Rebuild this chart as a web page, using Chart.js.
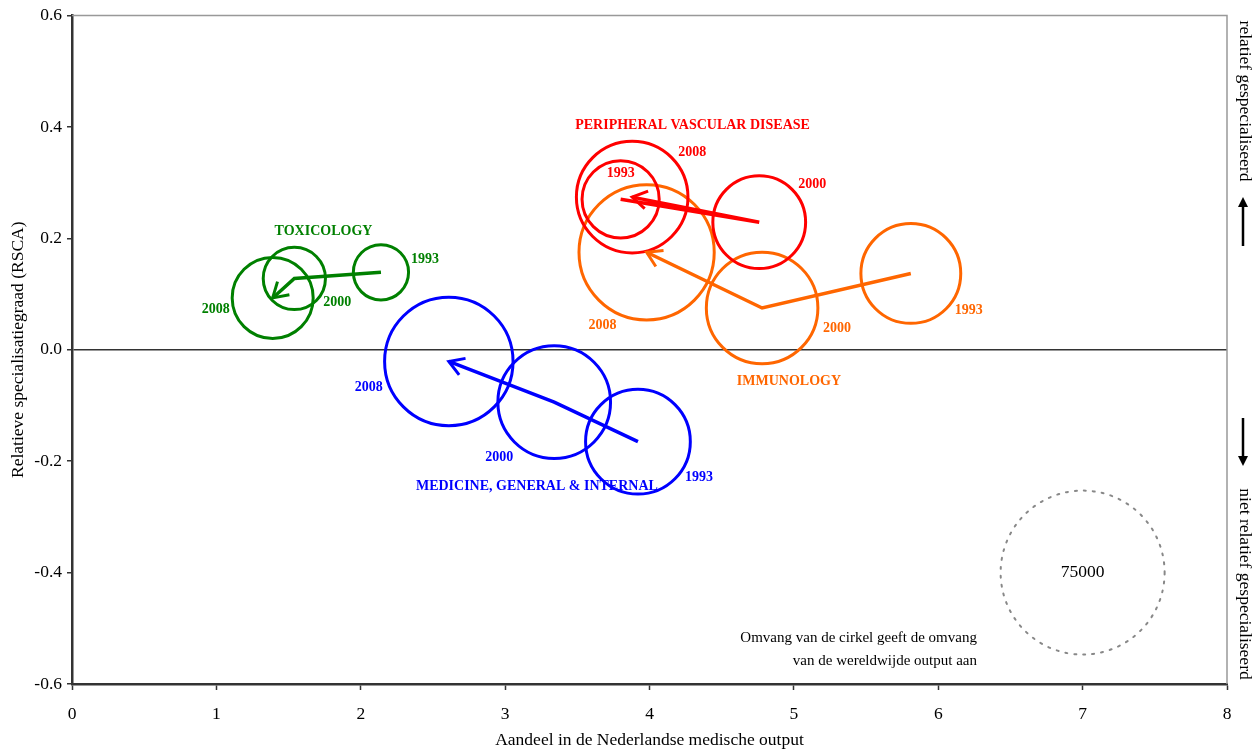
<!DOCTYPE html>
<html>
<head>
<meta charset="utf-8">
<script src="https://cdn.jsdelivr.net/npm/chart.js@4.4.1/dist/chart.umd.min.js"></script>
<style>
    html, body { margin: 0; padding: 0; background: #fff; }
    #wrap { width: 1260px; height: 752px; position: relative; }
</style>
</head>
<body>
<div id="wrap"><canvas id="chart"></canvas></div>
<script>
const years = ['1993', '2000', '2008'];

// aandeel (x), RSCA (y), wereldwijde output (cirkelgrootte)
const toxX = [2.14, 1.54, 1.39];
const toxY = [0.139, 0.128, 0.093];
const toxSize = [8500, 10800, 18300];

const medX = [3.92, 3.34, 2.61];
const medY = [-0.165, -0.094, -0.021];
const medSize = [30600, 35400, 46000];

const pvdX = [3.80, 4.76, 3.88];
const pvdY = [0.270, 0.229, 0.274];
const pvdSize = [16600, 24000, 34700];

const immX = [5.81, 4.78, 3.98];
const immY = [0.137, 0.075, 0.175];
const immSize = [27800, 34700, 51000];

const refX = [7];
const refY = [-0.4];
const refSize = [75000];

const groupNames = ['TOXICOLOGY', 'MEDICINE, GENERAL & INTERNAL', 'PERIPHERAL VASCULAR DISEASE', 'IMMUNOLOGY'];
const xTicks = [0, 1, 2, 3, 4, 5, 6, 7, 8];
const yTicks = [-0.6, -0.4, -0.2, 0.0, 0.2, 0.4, 0.6];

const SERIF = "'Liberation Serif', 'Times New Roman', serif";
const R_REF = 82;

function radius(v) {
    return R_REF * Math.sqrt(v / refSize[0]);
}

const groups = [
    { name: groupNames[0], x: toxX, y: toxY, size: toxSize, color: '#008000',
      yearOffsets: [[44, -13], [43, 24], [-57, 11]], nameAt: [1.742, 0.213] },
    { name: groupNames[1], x: medX, y: medY, size: medSize, color: '#0000FF',
      yearOffsets: [[61, 36], [-55, 55], [-80, 26]], nameAt: [3.22, -0.245] },
    { name: groupNames[2], x: pvdX, y: pvdY, size: pvdSize, color: '#FF0000',
      yearOffsets: [[0, -26], [53, -38], [60, -45]], nameAt: [4.298, 0.403] },
    { name: groupNames[3], x: immX, y: immY, size: immSize, color: '#FF6600',
      yearOffsets: [[58, 37], [75, 20], [-44, 73]], nameAt: [4.966, -0.057] }
];

const datasets = [];
groups.forEach((g, gi) => {
    datasets.push({
        type: 'line',
        data: g.x.map((x, i) => ({ x: x, y: g.y[i] })),
        borderColor: g.color,
        borderWidth: 3.5,
        pointRadius: 0,
        tension: 0,
        fill: false,
        order: 0
    });
    datasets.push({
        type: 'bubble',
        data: g.x.map((x, i) => ({ x: x, y: g.y[i], r: radius(g.size[i]) })),
        borderColor: g.color,
        backgroundColor: 'transparent',
        borderWidth: 3,
        hoverRadius: 0,
        order: 1
    });
});
// referentiecirkel
datasets.push({
    type: 'bubble',
    data: refX.map((x, i) => ({ x: x, y: refY[i], r: radius(refSize[i]) })),
    borderColor: '#888',
    backgroundColor: 'transparent',
    borderWidth: 2,
    hoverRadius: 0,
    order: 2
});
const REF_INDEX = datasets.length - 1;

const dottedRef = {
    id: 'dottedRef',
    beforeDatasetDraw(chart, args) {
        if (args.index === REF_INDEX) {
            chart.ctx.save();
            chart.ctx.setLineDash([2, 7]);
            chart.ctx.lineCap = 'round';
        }
    },
    afterDatasetDraw(chart, args) {
        if (args.index === REF_INDEX) chart.ctx.restore();
    }
};

const arrowHeads = {
    id: 'arrowHeads',
    afterDatasetsDraw(chart) {
        const ctx = chart.ctx;
        const L = 17, A = 0.55;
        chart.data.datasets.forEach((ds, i) => {
            if (ds.type !== 'line') return;
            const pts = chart.getDatasetMeta(i).data;
            const a = pts[pts.length - 2], b = pts[pts.length - 1];
            const ang = Math.atan2(b.y - a.y, b.x - a.x);
            ctx.save();
            ctx.strokeStyle = ds.borderColor;
            ctx.lineWidth = 3;
            ctx.beginPath();
            ctx.moveTo(b.x - L * Math.cos(ang - A), b.y - L * Math.sin(ang - A));
            ctx.lineTo(b.x, b.y);
            ctx.lineTo(b.x - L * Math.cos(ang + A), b.y - L * Math.sin(ang + A));
            ctx.stroke();
            ctx.restore();
        });
    }
};

const annotations = {
    id: 'annotations',
    afterDraw(chart) {
        const ctx = chart.ctx;
        const xs = chart.scales.x, ys = chart.scales.y;
        const area = chart.chartArea;

        // bovenrand en rechterrand
        ctx.save();
        ctx.strokeStyle = '#999';
        ctx.lineWidth = 1.5;
        ctx.beginPath();
        ctx.moveTo(area.left, area.top);
        ctx.lineTo(area.right, area.top);
        ctx.lineTo(area.right, area.bottom);
        ctx.stroke();
        ctx.restore();

        ctx.save();
        ctx.textAlign = 'center';
        ctx.textBaseline = 'middle';
        ctx.font = 'bold 14px ' + SERIF;
        groups.forEach((g, gi) => {
            ctx.fillStyle = g.color;
            const meta = chart.getDatasetMeta(gi * 2 + 1);
            meta.data.forEach((p, i) => {
                const off = g.yearOffsets[i];
                ctx.fillText(years[i], p.x + off[0], p.y + off[1]);
            });
            ctx.fillText(g.name, xs.getPixelForValue(g.nameAt[0]), ys.getPixelForValue(g.nameAt[1]));
        });

        // referentiecirkel
        ctx.fillStyle = '#000';
        ctx.font = '17.5px ' + SERIF;
        const ref = chart.getDatasetMeta(REF_INDEX).data[0];
        ctx.fillText(String(refSize[0]), ref.x, ref.y);

        ctx.textAlign = 'right';
        ctx.font = '15px ' + SERIF;
        const lx = xs.getPixelForValue(6.268);
        ctx.fillText('Omvang van de cirkel geeft de omvang', lx, ys.getPixelForValue(-0.5175));
        ctx.fillText('van de wereldwijde output aan', lx, ys.getPixelForValue(-0.559));

        // rechter teksten en pijlen
        const rx = area.right + 18;
        ctx.font = '17.5px ' + SERIF;
        ctx.textAlign = 'center';
        ctx.fillStyle = '#000';
        [['relatief gespecialiseerd', 101], ['niet relatief gespecialiseerd', 584]].forEach(t => {
            ctx.save();
            ctx.translate(rx, t[1]);
            ctx.rotate(Math.PI / 2);
            ctx.fillText(t[0], 0, 0);
            ctx.restore();
        });
        const ax = area.right + 16;
        ctx.strokeStyle = '#000';
        ctx.lineWidth = 2.5;
        [[246, 197], [418, 466]].forEach(a => {
            const dir = Math.sign(a[1] - a[0]);
            ctx.beginPath();
            ctx.moveTo(ax, a[0]);
            ctx.lineTo(ax, a[1] - dir * 8);
            ctx.stroke();
            ctx.beginPath();
            ctx.moveTo(ax, a[1]);
            ctx.lineTo(ax - 5, a[1] - dir * 10);
            ctx.lineTo(ax + 5, a[1] - dir * 10);
            ctx.closePath();
            ctx.fill();
        });
        ctx.restore();
    }
};

new Chart(document.getElementById('chart'), {
    type: 'bubble',
    data: { datasets: datasets },
    plugins: [dottedRef, arrowHeads, annotations],
    options: {
        responsive: true,
        maintainAspectRatio: false,
        animation: false,
        events: [],
        layout: { autoPadding: false, padding: { left: 0, right: 33, top: 15, bottom: 0 } },
        plugins: {
            legend: { display: false },
            tooltip: { enabled: false }
        },
        scales: {
            x: {
                type: 'linear',
                min: 0,
                max: 8,
                afterBuildTicks: s => { s.ticks = xTicks.map(v => ({ value: v })); },
                afterFit: s => { s.height = 68; },
                ticks: {
                    color: '#000',
                    font: { family: SERIF, size: 17.5 },
                    padding: 14,
                    maxRotation: 0
                },
                grid: {
                    drawOnChartArea: false,
                    tickLength: 6,
                    tickColor: '#333',
                    tickWidth: 1.5
                },
                border: { color: '#333', width: 2.5 },
                title: {
                    display: true,
                    text: 'Aandeel in de Nederlandse medische output',
                    color: '#000',
                    font: { family: SERIF, size: 17.5 },
                    padding: { top: 0, bottom: 1 }
                }
            },
            y: {
                type: 'linear',
                min: -0.6,
                max: 0.6,
                afterBuildTicks: s => { s.ticks = yTicks.map(v => ({ value: v })); },
                afterFit: s => { s.width = 72; },
                ticks: {
                    color: '#000',
                    font: { family: SERIF, size: 17.5 },
                    padding: 5,
                    callback: v => (Math.abs(v) < 1e-9 ? 0 : v).toFixed(1)
                },
                grid: {
                    color: c => (c.tick && Math.abs(c.tick.value) < 1e-9) ? '#333' : 'transparent',
                    lineWidth: 1.5,
                    tickLength: 5,
                    tickColor: '#333',
                    tickWidth: 1.5
                },
                border: { color: '#333', width: 2.5 },
                title: {
                    display: true,
                    text: 'Relatieve specialisatiegraad (RSCA)',
                    color: '#000',
                    font: { family: SERIF, size: 17.5 },
                    padding: { top: 8, bottom: 0 }
                }
            }
        }
    }
});
</script>
</body>
</html>
